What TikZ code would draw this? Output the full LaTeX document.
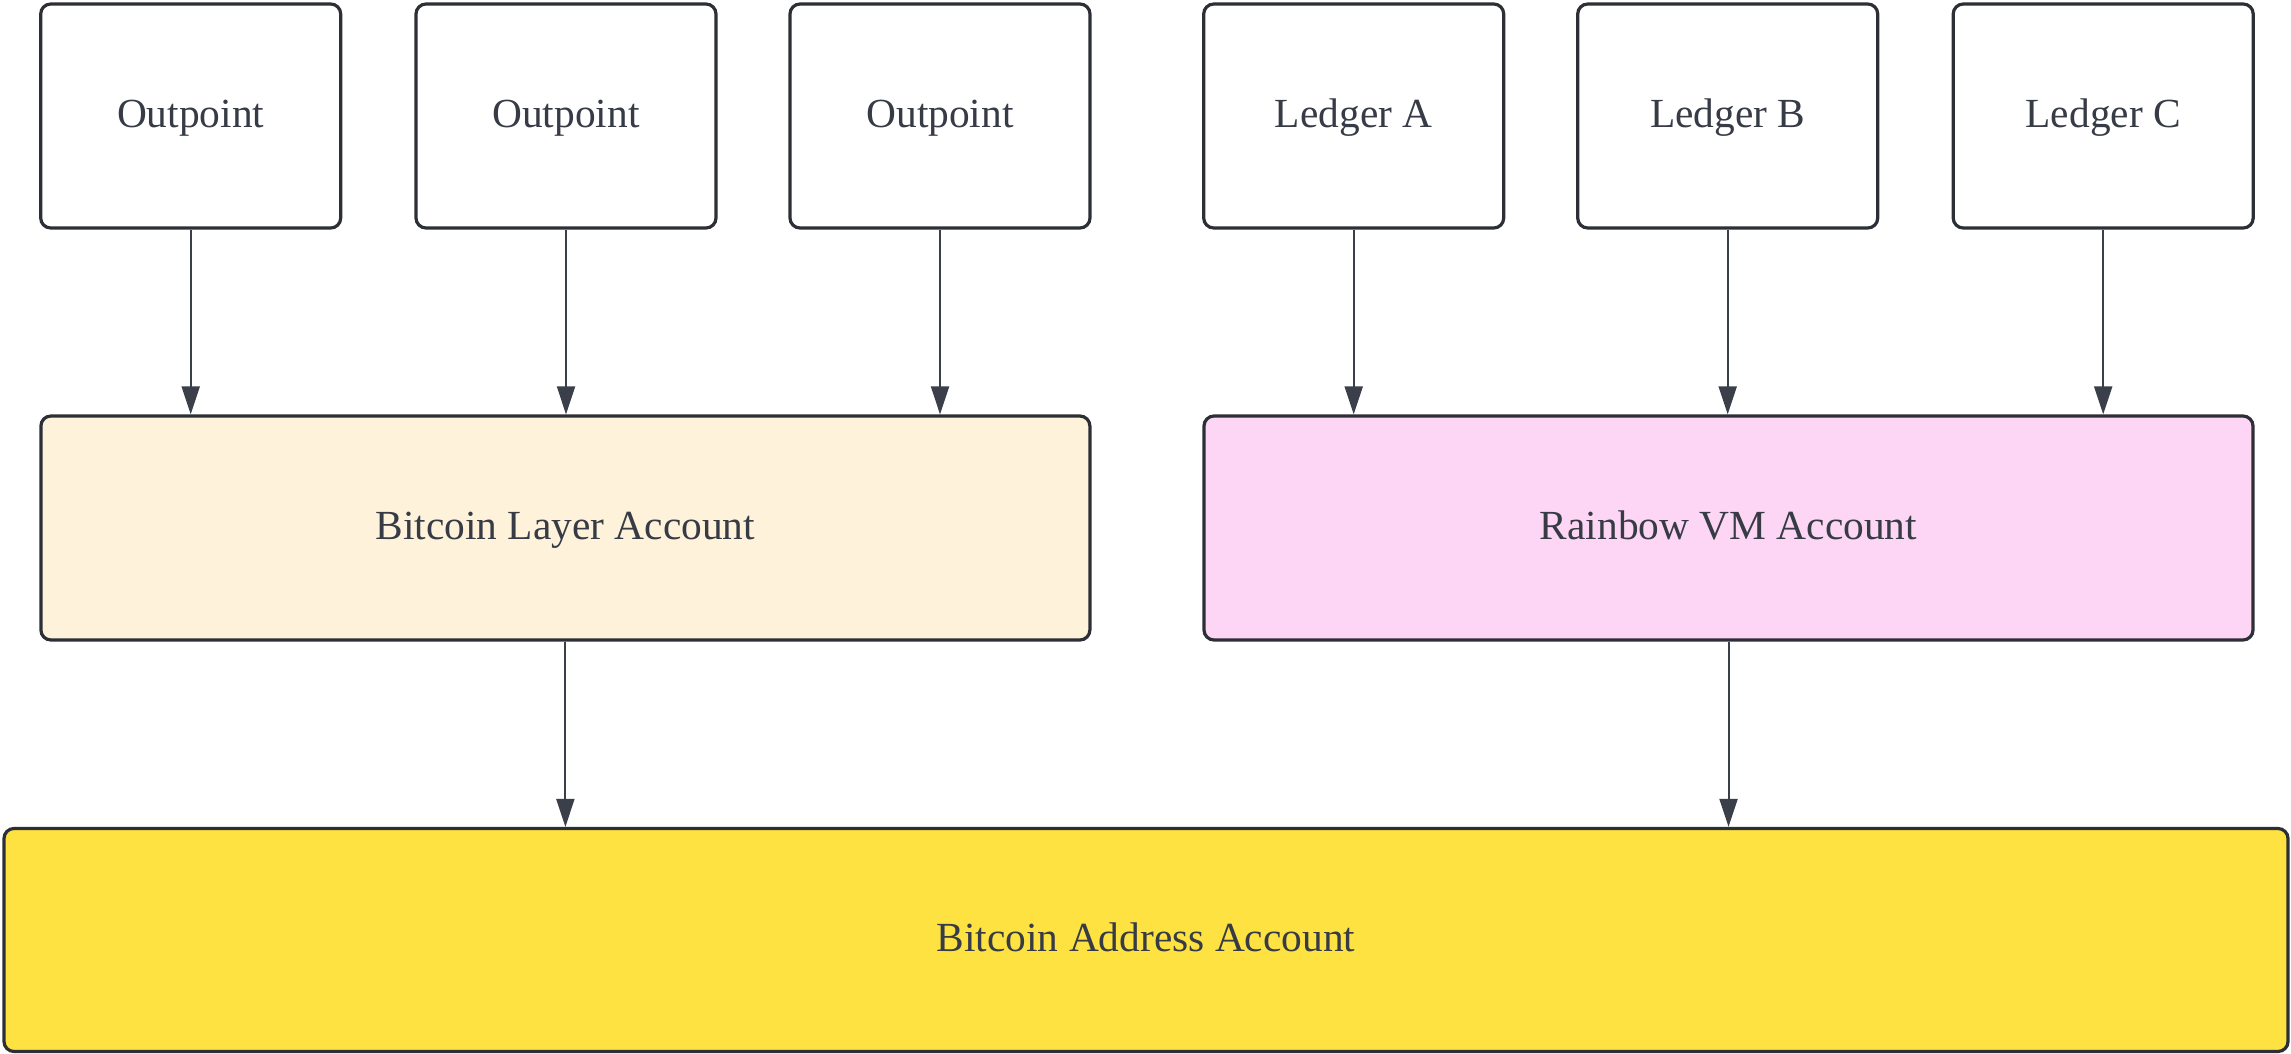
\documentclass[tikz,border=0pt]{standalone}
\usepackage{fontspec}
\setmainfont{Liberation Serif}
\usetikzlibrary{arrows.meta}
\definecolor{strokec}{HTML}{2C2F36}
\definecolor{textc}{HTML}{363B45}
\definecolor{arrowc}{HTML}{3A3F49}
\definecolor{creamf}{HTML}{FEF2DA}
\definecolor{pinkf}{HTML}{FDD6F5}
\definecolor{yellowf}{HTML}{FEE242}
\begin{document}
\begin{tikzpicture}[x=0.5pt,y=-0.5pt,
  box/.style={draw=strokec, line width=1.6pt, rounded corners=5pt, inner sep=0pt,
    text=textc, font=\fontsize{20.7}{25}\selectfont, text height=15pt, text depth=3.5pt},
  smallbox/.style={box, fill=white, minimum width=150pt, minimum height=112pt},
  midbox/.style={box, minimum width=524.5pt, minimum height=112pt},
  conn/.style={draw=arrowc, line width=1pt, -{Triangle[length=14pt,width=9pt]}}]
\useasboundingbox (0,0) rectangle (2291,1054);
% top row
\node[smallbox] (o1) at (190.7,116) {Outpoint};
\node[smallbox] (o2) at (566,116) {Outpoint};
\node[smallbox] (o3) at (940,116) {Outpoint};
\node[smallbox] (la) at (1353.7,116) {Ledger A};
\node[smallbox] (lb) at (1727.7,116) {Ledger B};
\node[smallbox] (lc) at (2103.2,116) {Ledger C};
% middle row
\node[midbox, fill=creamf] (bl) at (565.4,528) {Bitcoin Layer Account};
\node[midbox, fill=pinkf] (rv) at (1728.5,528) {Rainbow VM Account};
% bottom
\node[box, fill=yellowf, minimum width=1142pt, minimum height=111.5pt] (ba) at (1146,940) {Bitcoin Address Account};
% connectors
\draw[conn] (o1.south) -- (o1.south |- bl.north);
\draw[conn] (o2.south) -- (o2.south |- bl.north);
\draw[conn] (o3.south) -- (o3.south |- bl.north);
\draw[conn] (la.south) -- (la.south |- rv.north);
\draw[conn] (lb.south) -- (lb.south |- rv.north);
\draw[conn] (lc.south) -- (lc.south |- rv.north);
\draw[conn] (bl.south) -- (bl.south |- ba.north);
\draw[conn] (rv.south) -- (rv.south |- ba.north);
\end{tikzpicture}
\end{document}
